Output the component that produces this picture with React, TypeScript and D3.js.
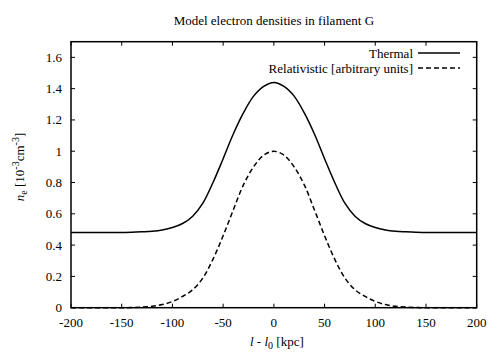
import React from 'react';
import * as d3 from 'd3';

// offsets from filament centre, l - l0 in kpc
const offsets = [-200, -190, -180, -170, -160, -150, -140, -130, -120, -110, -100, -90, -80, -70, -60, -50, -40, -30, -20, -10,
    0, 10, 20, 30, 40, 50, 60, 70, 80, 90, 100, 110, 120, 130, 140, 150, 160, 170, 180, 190, 200];

// thermal electron density, 10^-3 cm^-3
const thermal = [0.48, 0.48, 0.48, 0.48, 0.48, 0.481, 0.482, 0.485, 0.489, 0.497, 0.512, 0.538, 0.585, 0.668, 0.8, 0.952, 1.11, 1.245, 1.352, 1.415,
    1.44, 1.415, 1.352, 1.245, 1.11, 0.952, 0.8, 0.668, 0.585, 0.538, 0.512, 0.497, 0.489, 0.485, 0.482, 0.481, 0.48, 0.48, 0.48, 0.48, 0.48];

// relativistic electrons, arbitrary units
const relativistic = [0, 0, 0, 0, 0, 0, 0.001, 0.004, 0.009, 0.02, 0.04, 0.072, 0.115, 0.19, 0.31, 0.46, 0.625, 0.785, 0.9, 0.975,
    1.0, 0.975, 0.9, 0.785, 0.625, 0.46, 0.31, 0.19, 0.115, 0.072, 0.04, 0.02, 0.009, 0.004, 0.001, 0, 0, 0, 0, 0, 0];

const xTicks = [-200, -150, -100, -50, 0, 50, 100, 150, 200];
const yTicks = [0, 0.2, 0.4, 0.6, 0.8, 1, 1.2, 1.4, 1.6];

const seriesNames = ['Thermal', 'Relativistic [arbitrary units]'];

const W = 500, H = 353;
const margin = {top: 41.7, right: 23.3, bottom: 45.3, left: 71};
const font = "'Liberation Serif', 'DejaVu Serif', serif";

export default function App() {
    const width = W - margin.left - margin.right;
    const height = H - margin.top - margin.bottom;

    const xScale = d3.scaleLinear().domain([-200, 200]).range([0, width]);
    const yScale = d3.scaleLinear().domain([0, 1.7]).range([height, 0]);

    const line = d3.line<[number, number]>()
        .curve(d3.curveCatmullRom)
        .x(d => xScale(d[0]))
        .y(d => yScale(d[1]));

    const thermalPath = line(offsets.map((x, i) => [x, thermal[i]])) || '';
    const relPath = line(offsets.map((x, i) => [x, relativistic[i]])) || '';

    const tick = 4;

    return (
        <svg width={W} height={H} style={{position: 'absolute', left: 0, top: 0, background: '#fff', fontFamily: font, fontSize: 13}}>
            <text x={margin.left + width / 2} y={25} textAnchor="middle">
                Model electron densities in filament G
            </text>
            <g transform={'translate(' + margin.left + ',' + margin.top + ')'}>
                {/* x ticks, mirrored on top */}
                {xTicks.map(t => (
                    <g key={'x' + t}>
                        <line x1={xScale(t)} x2={xScale(t)} y1={height} y2={height - tick} stroke="#000" strokeWidth={1}/>
                        <line x1={xScale(t)} x2={xScale(t)} y1={0} y2={tick} stroke="#000" strokeWidth={1}/>
                        <text x={xScale(t)} y={height + 19.5} textAnchor="middle">{t}</text>
                    </g>
                ))}
                {/* y ticks, mirrored on right */}
                {yTicks.map(t => (
                    <g key={'y' + t}>
                        <line x1={0} x2={tick} y1={yScale(t)} y2={yScale(t)} stroke="#000" strokeWidth={1}/>
                        <line x1={width} x2={width - tick} y1={yScale(t)} y2={yScale(t)} stroke="#000" strokeWidth={1}/>
                        <text x={-9} y={yScale(t)} dy="0.35em" textAnchor="end">{t}</text>
                    </g>
                ))}

                <path d={thermalPath} fill="none" stroke="#000" strokeWidth={1.5}/>
                <path d={relPath} fill="none" stroke="#000" strokeWidth={1.5} strokeDasharray="5,3"/>

                {/* legend */}
                <text x={342} y={11.3} dy="0.35em" textAnchor="end">{seriesNames[0]}</text>
                <line x1={347} x2={389} y1={11.3} y2={11.3} stroke="#000" strokeWidth={1.5}/>
                <text x={342} y={26.3} dy="0.35em" textAnchor="end">{seriesNames[1]}</text>
                <line x1={347} x2={389} y1={26.3} y2={26.3} stroke="#000" strokeWidth={1.5} strokeDasharray="5,3"/>

                <rect x={0} y={0} width={width} height={height} fill="none" stroke="#000" strokeWidth={1.5}/>
            </g>

            {/* x label: l - l0 [kpc] */}
            <text x={margin.left + width / 2 + 3} y={346} textAnchor="middle">
                <tspan fontStyle="italic">l</tspan>
                <tspan> - </tspan>
                <tspan fontStyle="italic">l</tspan>
                <tspan dy={3} fontSize={10}>0</tspan>
                <tspan dy={-3}> [kpc]</tspan>
            </text>

            {/* y label: n_e [10^-3 cm^-3] */}
            <text transform="translate(24,167) rotate(-90)" textAnchor="middle">
                <tspan fontStyle="italic">n</tspan>
                <tspan dy={3} fontSize={10}>e</tspan>
                <tspan dy={-3}> [10</tspan>
                <tspan dy={-5} fontSize={10}>-3</tspan>
                <tspan dy={5}>cm</tspan>
                <tspan dy={-5} fontSize={10}>-3</tspan>
                <tspan dy={5}>]</tspan>
            </text>
        </svg>
    );
}
